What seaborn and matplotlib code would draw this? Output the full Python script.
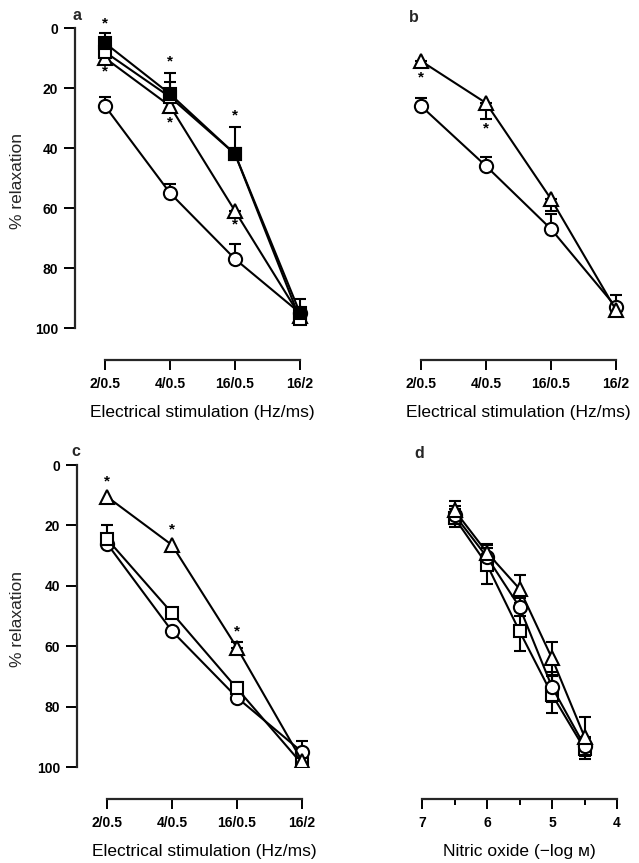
import matplotlib
matplotlib.use('Agg')
import matplotlib.pyplot as plt
import seaborn as sns
import numpy as np
import pandas as pd

# ---------------- data ----------------
categories = ['2/0.5', '4/0.5', '16/0.5', '16/2']
y_ticks = [0, 20, 40, 60, 80, 100]

# panel a
a_circle = [26, 55, 77, 95]
a_circle_sem = [3, 3, 5, 0]
a_triangle = [10, 26, 61, 96]
a_triangle_sem = [0, 0, 2, 0]
a_open_square = [8, 23, 42, 97]
a_open_square_sem = [0, 5, 0, 0]
a_filled_square = [5, 22, 42, 95]
a_filled_square_sem = [3.5, 7, 9, 4.5]
a_star_cat = [0, 0, 1, 1, 2, 2]
a_star_val = [-1.5, 14.5, 11, 31.5, 29, 65.5]

# panel b
b_circle = [26, 46, 67, 93]
b_circle_sem = [2.6, 3, 5, 4]
b_triangle = [11, 25, 57, 94]
b_triangle_sem = [2, 5.5, 4, 1.5]
b_star_cat = [0, 1]
b_star_val = [16.5, 33.5]

# panel c
c_circle = [26, 55, 77, 95]
c_circle_sem = [0, 0, 0, 3.5]
c_triangle = [10.5, 26.5, 60.5, 98]
c_triangle_sem = [0, 0, 2, 0]
c_square = [24.5, 49, 74, 99]
c_square_sem = [4.5, 0, 2, 0]
c_star_cat = [0, 1, 2]
c_star_val = [5.5, 21.5, 55]

# panel d
d_no = [6.5, 6.0, 5.5, 5.0, 4.5]
d_triangle = [15, 29, 41, 64, 90]
d_triangle_sem = [3, 3, 4.7, 5.5, 6.5]
d_circle = [16.5, 30.5, 47, 73.5, 93]
d_circle_sem = [3, 3, 3, 5, 3]
d_square = [17.5, 33, 55, 76, 94]
d_square_sem = [3, 6.5, 6.5, 6, 3.5]
d_major = [7, 6, 5, 4]
d_minor = [6.5, 5.5, 4.5]

# ---------------- style ----------------
sns.set_theme(style='ticks')
plt.rcParams['font.family'] = ['Liberation Sans', 'DejaVu Sans']
plt.rcParams['axes.linewidth'] = 1.6

W, H, DPI = 639, 863, 100
fig = plt.figure(figsize=(W / DPI, H / DPI), dpi=DPI)
fig.patch.set_facecolor('white')


def add_ax(left, top, width, height):
    return fig.add_axes([left / W, 1 - (top + height) / H, width / W, height / H])


def draw(ax, x, y, sem, marker, filled, side, ms):
    df = pd.DataFrame({'x': x, 'y': y})
    sem = np.asarray(sem, float)
    xs = np.asarray(x, float)
    ys = np.asarray(y, float)
    m = sem > 0
    if m.any():
        zero = np.zeros(m.sum())
        if side == 'up':
            yerr = [sem[m], zero]
        elif side == 'down':
            yerr = [zero, sem[m]]
        else:
            yerr = [sem[m], sem[m]]
        ax.errorbar(xs[m], ys[m], yerr=yerr, fmt='none', ecolor='black',
                    elinewidth=1.5, capsize=4.6, capthick=1.5, zorder=2)
    sns.lineplot(data=df, x='x', y='y', ax=ax, color='black', linewidth=1.5,
                 marker=marker, markersize=ms,
                 markerfacecolor='black' if filled else 'white',
                 markeredgecolor='black', markeredgewidth=1.5,
                 sort=False, errorbar=None, legend=False, zorder=3)


def stars(ax, xc, yv):
    for xx, yy in zip(xc, yv):
        ax.text(xx, yy, '*', ha='center', va='center', fontsize=11,
                fontweight='bold', color='black', zorder=4)


def style(ax, show_y, xbounds):
    ax.set_facecolor('white')
    ax.set_ylim(100, 0)
    sns.despine(ax=ax, top=True, right=True, left=not show_y)
    ax.spines['bottom'].set_position(('outward', 23))
    ax.spines['bottom'].set_bounds(*xbounds)
    ax.spines['bottom'].set_linewidth(1.6)
    ax.tick_params(axis='x', direction='out', length=7.5, width=1.4,
                   pad=5, labelsize=10, colors='black')
    for lab in ax.get_xticklabels():
        lab.set_fontweight('bold')
    if show_y:
        ax.spines['left'].set_bounds(0, 100)
        ax.spines['left'].set_linewidth(1.6)
        ax.set_yticks(y_ticks)
        ax.set_yticklabels([str(t) for t in y_ticks], fontweight='bold')
        ax.tick_params(axis='y', direction='out', length=8, width=1.4,
                       pad=4, labelsize=10, colors='black')
    else:
        ax.set_yticks([])
    ax.set_ylabel('')
    ax.grid(False)


off = 30 / 65
span = 240 / 65
xcat = list(range(len(categories)))

# panel a
ax_a = add_ax(75, 28, 240, 300)
draw(ax_a, xcat, a_circle, a_circle_sem, 'o', False, 'up', 9.5)
draw(ax_a, xcat, a_triangle, a_triangle_sem, '^', False, 'down', 10)
draw(ax_a, xcat, a_open_square, a_open_square_sem, 's', False, 'up', 8.5)
draw(ax_a, xcat, a_filled_square, a_filled_square_sem, 's', True, 'up', 8.5)
stars(ax_a, a_star_cat, a_star_val)
ax_a.set_xlim(-off, -off + span)
ax_a.set_xticks(xcat)
ax_a.set_xticklabels(categories)
style(ax_a, True, (0, 3))

# panel b
ax_b = add_ax(391, 28, 240, 300)
draw(ax_b, xcat, b_circle, b_circle_sem, 'o', False, 'up', 9.5)
draw(ax_b, xcat, b_triangle, b_triangle_sem, '^', False, 'down', 10)
stars(ax_b, b_star_cat, b_star_val)
ax_b.set_xlim(-off, -off + span)
ax_b.set_xticks(xcat)
ax_b.set_xticklabels(categories)
style(ax_b, False, (0, 3))

# panel c
ax_c = add_ax(77, 465, 240, 302)
draw(ax_c, xcat, c_circle, c_circle_sem, 'o', False, 'up', 9.5)
draw(ax_c, xcat, c_square, c_square_sem, 's', False, 'up', 8.5)
draw(ax_c, xcat, c_triangle, c_triangle_sem, '^', False, 'up', 10)
stars(ax_c, c_star_cat, c_star_val)
ax_c.set_xlim(-off, -off + span)
ax_c.set_xticks(xcat)
ax_c.set_xticklabels(categories)
style(ax_c, True, (0, 3))

# panel d
ax_d = add_ax(392, 465, 240, 302)
draw(ax_d, d_no, d_square, d_square_sem, 's', False, 'both', 8.5)
draw(ax_d, d_no, d_circle, d_circle_sem, 'o', False, 'both', 9.5)
draw(ax_d, d_no, d_triangle, d_triangle_sem, '^', False, 'both', 10)
ax_d.set_xlim(7 + off, 7 + off - span)
ax_d.set_xticks(d_major)
ax_d.set_xticklabels([str(v) for v in d_major])
ax_d.set_xticks(d_minor, minor=True)
style(ax_d, False, (4, 7))
ax_d.tick_params(axis='x', which='minor', direction='out', length=4.5,
                 width=1.4, colors='black')

# axis labels
for ax in (ax_a, ax_b, ax_c):
    ax.set_xlabel('Electrical stimulation (Hz/ms)', fontsize=12.5, color='black')
ax_d.set_xlabel('Nitric oxide (\u2212log \u043c)', fontsize=12.5, color='black')
for ax in (ax_a, ax_b, ax_c, ax_d):
    ax.xaxis.set_label_coords(0.531, -0.255)

fig.text(18 / W, 1 - 181 / H, '% relaxation', rotation=90, ha='center',
         va='center', fontsize=12.5)
fig.text(18 / W, 1 - 619 / H, '% relaxation', rotation=90, ha='center',
         va='center', fontsize=12.5)

# panel letters
for lab, px, py in [('a', 77, 15), ('b', 414, 17), ('c', 76, 452), ('d', 419, 453)]:
    fig.text(px / W, 1 - py / H, lab, ha='center', va='center',
             fontsize=11.5, fontweight='bold')

fig.savefig('out.png', dpi=DPI, facecolor='white')
